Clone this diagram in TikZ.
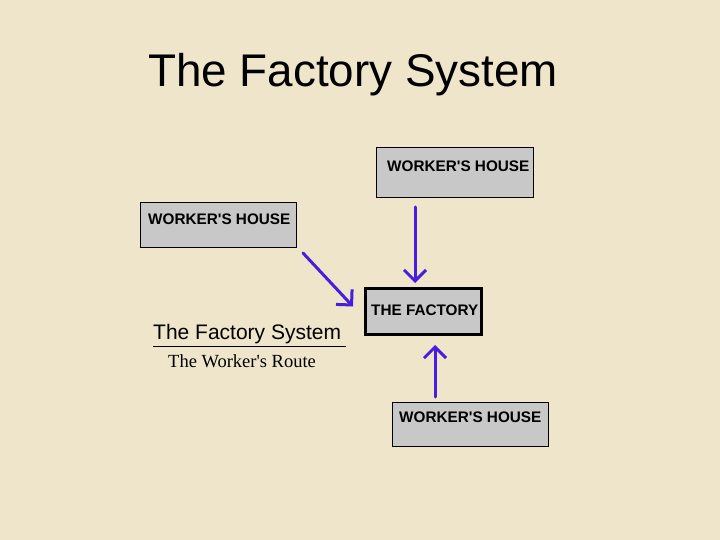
\documentclass[tikz,border=0pt]{standalone}
\usepackage{fontspec}
\setmainfont{Liberation Sans}
\newfontfamily\serifw{Liberation Serif}
\usetikzlibrary{arrows.meta,calc}
\definecolor{parch}{RGB}{238,229,202}
\definecolor{boxgray}{RGB}{200,200,200}
\definecolor{penblue}{RGB}{72,30,222}
\newcommand{\apo}{\textquotesingle}
\tikzset{
  housebox/.style={draw=black, line width=1pt, fill=boxgray, anchor=north west, inner sep=0pt},
  factbox/.style={draw=black, line width=3pt, fill=boxgray, anchor=north west, inner sep=0pt},
  boxtext/.style={anchor=west, inner sep=0pt, font=\bfseries\fontsize{15.3}{17}\selectfont},
  route/.style={draw=penblue, line width=3pt, line cap=round, line join=round,
    -{Straight Barb[length=11pt, width=22pt, line width=3pt]}}
}
\begin{document}
\begin{tikzpicture}[x=1pt, y=-1pt]
\fill[parch] (0,0) rectangle (720,540);
\useasboundingbox (0,0) rectangle (720,540);

\node[anchor=west, inner sep=0pt, font=\fontsize{45.8}{50}\selectfont] (title) at (148,75) {The Factory System};

\node[housebox, minimum width=157pt, minimum height=50pt] (wh2) at (376,147) {};
\node[boxtext] (wh2t) at (387,166) {WORKER\apo S HOUSE};

\node[housebox, minimum width=156pt, minimum height=45pt] (wh1) at (140,202) {};
\node[boxtext] (wh1t) at (148,219) {WORKER\apo S HOUSE};

\node[factbox, minimum width=116pt, minimum height=46pt] (fac) at (364,287) {};
\node[boxtext] (fact) at (371,310) {THE FACTORY};

\node[housebox, minimum width=156pt, minimum height=44pt] (wh3) at (392,402) {};
\node[boxtext] (wh3t) at (399,417) {WORKER\apo S HOUSE};

\node[anchor=west, inner sep=0pt, font=\fontsize{21}{24}\selectfont] (sub) at (153,334) {The Factory System};
\draw[line width=1pt] ($(sub.south west)+(0,3)$) -- ($(sub.south east)+(5,3)$);
\node[anchor=west, inner sep=0pt, font=\serifw\fontsize{18.5}{21}\selectfont] (route) at (168,361) {The Worker\apo s Route};

\draw[route] ($(wh1.south east)+(6,5)$) -- ($(fac.west)+(-11,-5)$);
\draw[route] ($(wh2.south west)+(39,9)$) -- ($(fac.north west)+(51,-4)$);
\draw[route] ($(wh3.north west)+(43,-5)$) -- ($(fac.south west)+(71,9)$);
\end{tikzpicture}
\end{document}
